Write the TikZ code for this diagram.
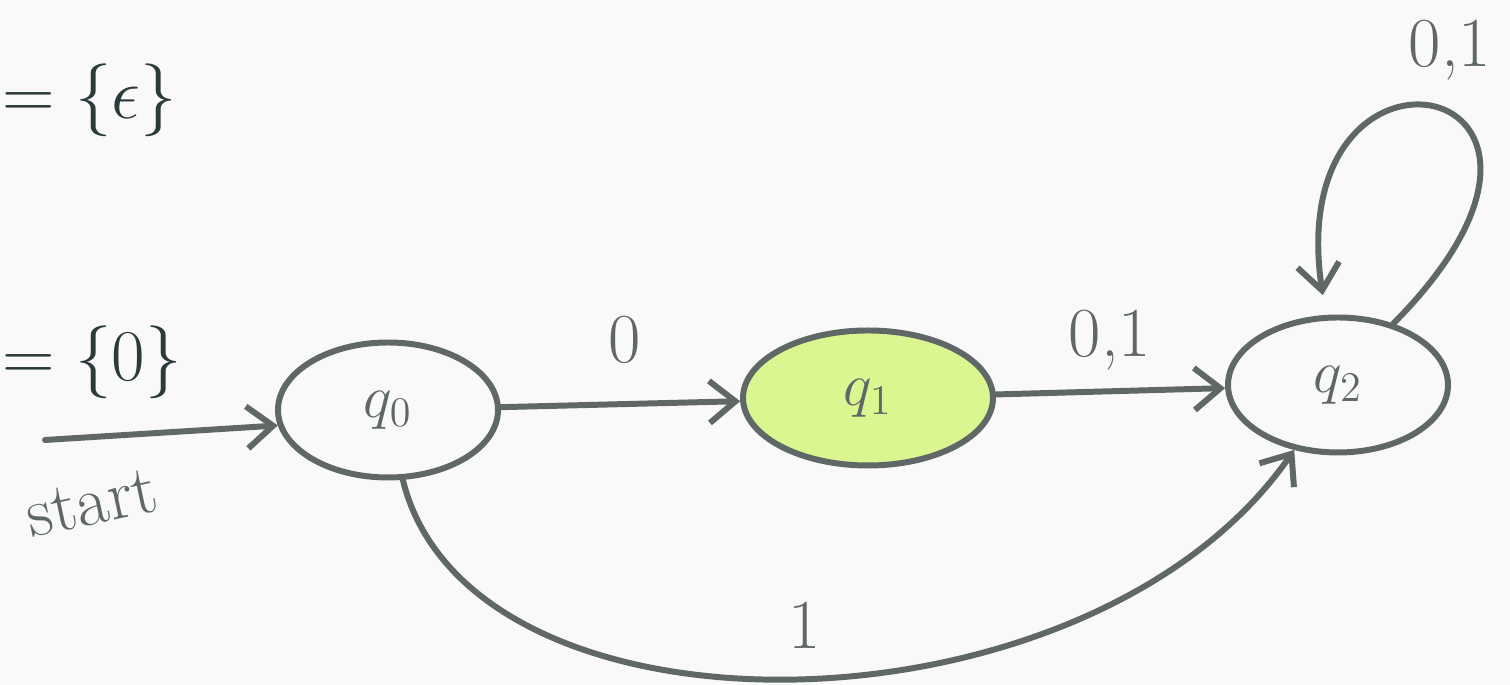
\documentclass[tikz,border=0pt]{standalone}
\usepackage{amsmath,amssymb}
\usepackage{xcolor}
\usepackage{tikz}
\usetikzlibrary{shapes.geometric, arrows.meta, positioning, calc}

\definecolor{pencil}{HTML}{5F6767}
\definecolor{ink}{HTML}{2B3B3B}
\definecolor{lime}{HTML}{D9F690}
\definecolor{paper}{HTML}{F9F9F9}

\begin{document}
\begin{tikzpicture}[
    state/.style={ellipse, draw=pencil, line width=1.7pt, minimum width=2.2cm,
                  minimum height=1.35cm, inner sep=0pt,
                  font=\fontsize{18}{20}\selectfont, text=pencil},
    accept/.style={state, fill=lime, minimum width=2.5cm},
    arrow/.style={-{Straight Barb[length=2.6mm, width=4.2mm]}, line width=1.7pt,
                  draw=pencil, line cap=round},
    label/.style={font=\fontsize{20}{22}\selectfont, text=pencil},
    set/.style={font=\fontsize{20}{24}\selectfont, text=ink, anchor=west,
                inner sep=0pt},
]
\fill[paper] (0,0) rectangle (15.1,6.85);
\useasboundingbox (0,0) rectangle (15.1,6.85);

% ── Sets ──
\node[set] (seteps) at (0.02,5.85) {$=\{\epsilon\}$};
\node[set] (setzero) at (0.02,3.23) {$=\{0\}$};

% ── States ──
\node[state] (q0) at (3.88,2.75) {$q_0$};
\node[accept] (q1) at (8.68,2.87) {$q_1$};
\node[state] (q2) at (13.38,3.0) {$q_2$};
\coordinate (start) at (0.45,2.45);

% ── Arrows ──
\draw[arrow] (start) -- (q0.188);
\draw[arrow] (q0) -- (q1);
\draw[arrow] (q1) -- (q2);
\draw[arrow] (q0.282) .. controls (4.7,-0.7) and (10.9,-0.6) .. (q2.236);
\draw[arrow, shorten >=2mm] (q2.48) .. controls (16.4,6.1) and (12.8,6.8) .. (q2.100);

% ── Labels ──
\node[label, rotate=12, inner sep=1pt] (lstart) at (0.92,1.82) {start};
\node[label] (lzero) at (6.25,3.45) {0};
\node[label] (lzeroone) at (11.1,3.45) {0,1};
\node[label] (lone) at (8.05,0.6) {1};
\node[label] (lloop) at (14.5,6.35) {0,1};

\end{tikzpicture}
\end{document}
